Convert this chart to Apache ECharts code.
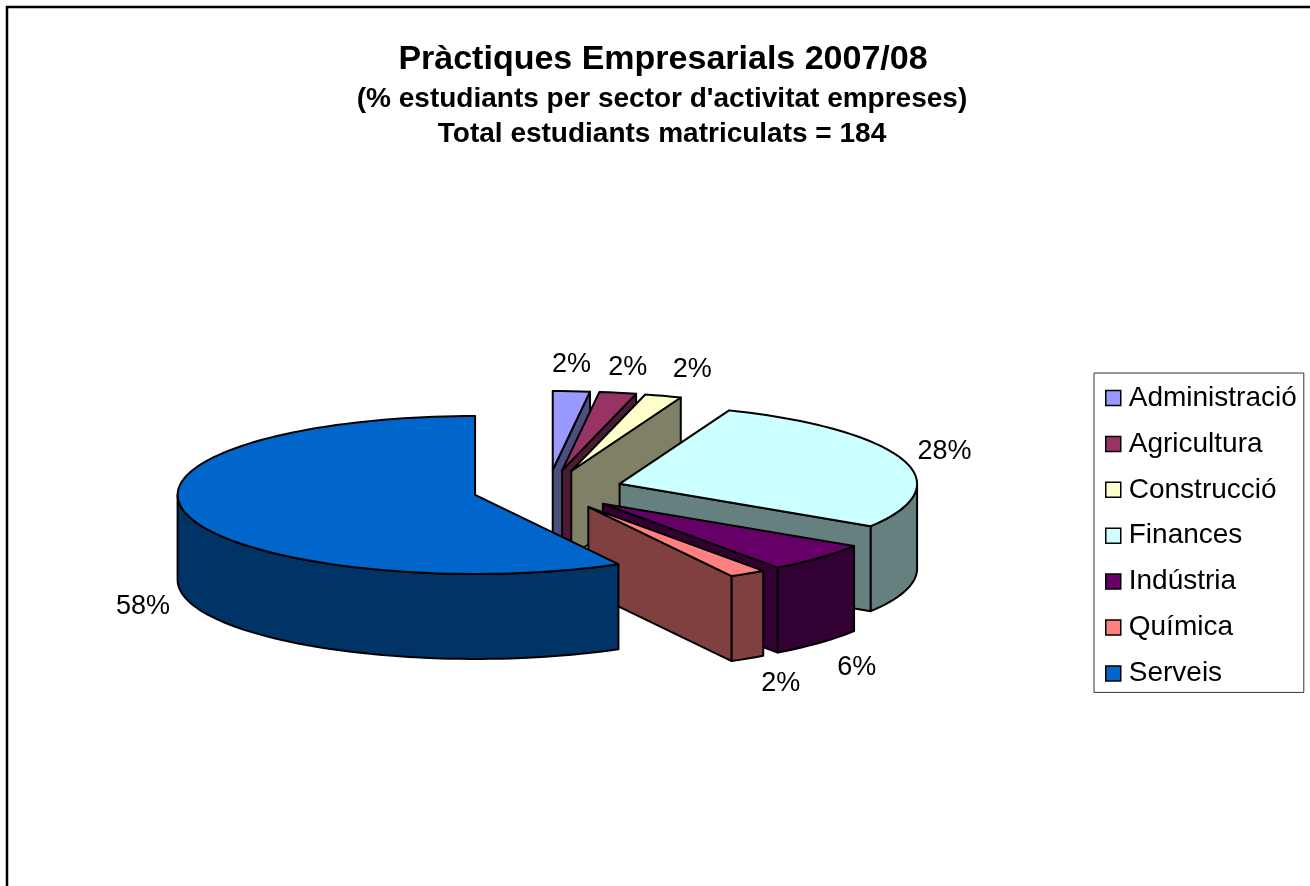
<!DOCTYPE html>
<html>
<head>
<meta charset="utf-8">
<title>Pràctiques Empresarials 2007/08</title>
<script src="https://cdn.jsdelivr.net/npm/echarts@6/dist/echarts.min.js"></script>
<style>
  html, body { margin: 0; background: #fff; }
  #chart { width: 1310px; height: 886px; }
</style>
</head>
<body>
<div id="chart"></div>
<script>
const categories = ['Administració', 'Agricultura', 'Construcció', 'Finances', 'Indústria', 'Química', 'Serveis'];
const percents = [2, 2, 2, 28, 6, 2, 58];
const topColors = ['#9999FF', '#993366', '#FFFFCC', '#CCFFFF', '#660066', '#FF8080', '#0066CC'];
const wallColors = ['#4D4D80', '#4D1A33', '#808066', '#668080', '#330033', '#804040', '#003366'];
const titleLines = ['Pràctiques Empresarials 2007/08', "(% estudiants per sector d'activitat empreses)", 'Total estudiants matriculats = 184'];

// pie geometry, in pixels
const cx = 548, cy = 490, rx = 297.5, ry = 79, depth = 85, explode = 0.253;
// nudges of each percentage label from the rim of its slice
const labelNudges = [[0, -27], [10, -25], [29, -26], [42, -8], [37, 25], [33, 25], [-44, 7]];

const total = percents.reduce((a, b) => a + b, 0);
const rad = d => d * Math.PI / 180;

function rim(ox, oy, deg, down) {
  return [ox + rx * Math.sin(rad(deg)), oy - ry * Math.cos(rad(deg)) + (down || 0)];
}

function arc(ox, oy, from, to, down) {
  const pts = [];
  const n = Math.max(2, Math.ceil(Math.abs(to - from) / 2));
  for (let i = 0; i <= n; i++) pts.push(rim(ox, oy, from + (to - from) * i / n, down));
  return pts;
}

function poly(points, fill) {
  return {
    type: 'polygon',
    shape: { points },
    style: { fill, stroke: '#000', lineWidth: 2, lineJoin: 'round' }
  };
}

// one slice: radial walls and rim wall that face the viewer, top face, label
function renderSlice(idx, api) {
  const value = api.value(0);
  const a0 = api.value(1) / total * 360;
  const a1 = a0 + value / total * 360;
  const mid = (a0 + a1) / 2;
  const ox = cx + explode * rx * Math.sin(rad(mid));
  const oy = cy - explode * ry * Math.cos(rad(mid));
  const apex = [ox, oy];
  const apexDown = [ox, oy + depth];
  const children = [];

  if (Math.cos(rad(a0 - 90)) < 0) {
    children.push(poly([apex, rim(ox, oy, a0), rim(ox, oy, a0, depth), apexDown], wallColors[idx]));
  }
  if (Math.cos(rad(a1 + 90)) < 0) {
    children.push(poly([apex, rim(ox, oy, a1), rim(ox, oy, a1, depth), apexDown], wallColors[idx]));
  }
  const w0 = Math.max(a0, 90), w1 = Math.min(a1, 270);
  if (w1 > w0) {
    children.push(poly(arc(ox, oy, w0, w1).concat(arc(ox, oy, w1, w0, depth)), wallColors[idx]));
  }
  children.push(poly([apex].concat(arc(ox, oy, a0, a1)), topColors[idx]));

  const p = rim(ox, oy, mid, mid > 90 && mid < 270 ? depth : 0);
  children.push({
    type: 'text',
    style: {
      x: p[0] + labelNudges[idx][0],
      y: p[1] + labelNudges[idx][1],
      text: value + '%',
      fill: '#000',
      font: '27px "Liberation Sans", Arial, sans-serif',
      align: 'center',
      verticalAlign: 'middle'
    }
  });
  return { type: 'group', children };
}

let running = 0;
const series = categories.map((name, i) => {
  const start = running;
  running += percents[i];
  return {
    type: 'custom',
    name,
    coordinateSystem: 'none',
    itemStyle: { color: topColors[i] },
    encode: { value: 0 },
    data: [[percents[i], start]],
    renderItem: (params, api) => renderSlice(i, api)
  };
});

const font = '"Liberation Sans", Arial, sans-serif';
const chart = echarts.init(document.getElementById('chart'), null, { renderer: 'canvas' });
chart.setOption({
  animation: false,
  backgroundColor: '#fff',
  title: [
    { text: titleLines[0], left: 663, top: 43, textAlign: 'center', padding: 0, textStyle: { fontFamily: font, fontSize: 34, fontWeight: 'bold', color: '#000' } },
    { text: titleLines[1], left: 662, top: 85, textAlign: 'center', padding: 0, textStyle: { fontFamily: font, fontSize: 28, fontWeight: 'bold', color: '#000' } },
    { text: titleLines[2], left: 662, top: 120, textAlign: 'center', padding: 0, textStyle: { fontFamily: font, fontSize: 28, fontWeight: 'bold', color: '#000' } }
  ],
  legend: {
    orient: 'vertical',
    left: 1094,
    top: 373,
    data: categories,
    selectedMode: false,
    icon: 'rect',
    itemWidth: 15,
    itemHeight: 15,
    itemGap: 11.9,
    padding: [8, 7, 2, 11],
    borderColor: '#333',
    borderWidth: 1,
    itemStyle: { borderColor: '#000', borderWidth: 1.5 },
    textStyle: { fontFamily: font, fontSize: 28, color: '#000', lineHeight: 26, padding: [0, 0, 8, 3] }
  },
  graphic: [{
    type: 'polyline',
    shape: { points: [[7, 886], [7, 7], [1310, 7]] },
    style: { fill: null, stroke: '#000', lineWidth: 2.5 }
  }],
  series
});
</script>
</body>
</html>
